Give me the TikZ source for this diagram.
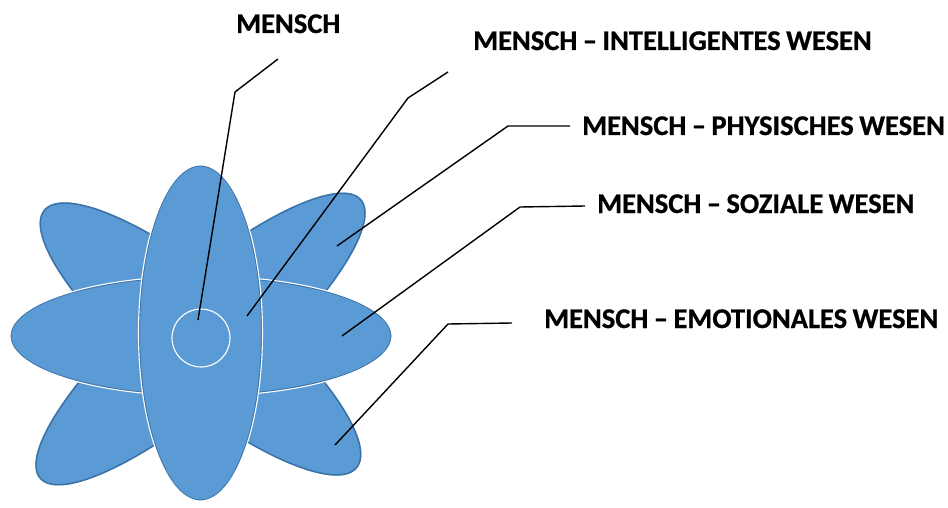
\documentclass[tikz,border=0pt]{standalone}
\usepackage{fontspec}
\setmainfont{Carlito}[BoldFeatures={FakeBold=0.8},WordSpace=0.85]
\definecolor{petal}{HTML}{5B9BD5}
\definecolor{rim}{HTML}{36689C}

% filled shape with a soft dark rim just inside its outline
\newcommand\bloom[2]{%
  \fill[petal,#1] #2;
  \begin{scope}\clip[#1] #2; \draw[rimline,#1] #2;\end{scope}}

\begin{document}
\begin{tikzpicture}[x=1pt,y=-1pt,
  rimline/.style={draw=rim,line width=3pt,opacity=0.8},
  seam/.style={draw=white,line width=1.1pt},
  leader/.style={draw=black,line width=1.4pt,line join=round},
  caption/.style={font=\fontsize{28.5}{30}\selectfont\bfseries,inner sep=0pt,anchor=base west}]

\useasboundingbox (0,0) rectangle (948,508);

% flower: two diagonal ellipses, then horizontal and vertical ones on top
\coordinate (fc) at (200.5,339);
\bloom{rotate around={41:(fc)}}{(fc) ellipse [x radius=213,y radius=58]}
\bloom{rotate around={-39.5:(fc)}}{(fc) ellipse [x radius=203,y radius=58]}

\coordinate (hc) at (201,336);
\bloom{}{(hc) ellipse [x radius=191,y radius=60]}
\draw[seam] (hc) ellipse [x radius=191,y radius=60];

\coordinate (vc) at (200.5,333);
\bloom{}{(vc) ellipse [x radius=62,y radius=168]}
\draw[seam] (vc) ellipse [x radius=62,y radius=168];

\node[circle,draw=white,line width=1.1pt,minimum size=58pt,inner sep=0pt] (core) at (201,338) {};

% captions
\node[caption] (t0) at (236,33) {MENSCH};
\node[caption] (t1) at (473,50) {MENSCH – INTELLIGENTES WESEN};
\node[caption] (t2) at (582,135) {MENSCH – PHYSISCHES WESEN};
\node[caption] (t3) at (597,213) {MENSCH – SOZIALE WESEN};
\node[caption] (t4) at (544,328) {MENSCH – EMOTIONALES WESEN};

% leader lines
\coordinate (a0) at (278,59);  \coordinate (b0) at (235,92);  \coordinate (e0) at (198,320);
\coordinate (a1) at (448,72);  \coordinate (b1) at (408,98);  \coordinate (e1) at (247,316);
\coordinate (a2) at (570,126); \coordinate (b2) at (508,126); \coordinate (e2) at (337,246);
\coordinate (a3) at (585,206); \coordinate (b3) at (520,207); \coordinate (e3) at (342,336);
\coordinate (a4) at (512,323); \coordinate (b4) at (448,324); \coordinate (e4) at (335,445);
\foreach \i in {0,...,4} \draw[leader] (a\i) -- (b\i) -- (e\i);

\end{tikzpicture}
\end{document}
